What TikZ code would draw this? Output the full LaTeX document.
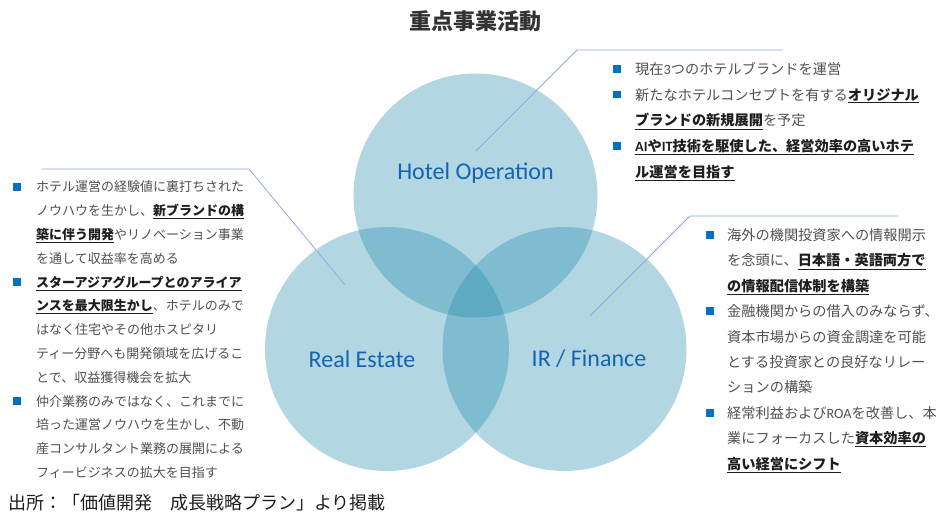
\documentclass[tikz,border=0pt]{standalone}
\usepackage{fontspec}
\setmainfont{Noto Sans CJK JP}
\newfontfamily\carlito{Carlito}
\definecolor{vennblue}{RGB}{35,138,172}
\definecolor{bullblue}{RGB}{0,112,192}
\definecolor{txtgray}{RGB}{80,80,80}
\definecolor{boldtxt}{RGB}{30,30,30}
\definecolor{lblblue}{RGB}{18,100,178}
\definecolor{leadblue}{RGB}{142,168,219}
\definecolor{titlegray}{RGB}{50,50,50}
\newcommand\ulb[1]{{\color{boldtxt}\underline{\textbf{#1}}}}
\newcommand\lat[1]{{\carlito #1}}
\tikzset{
  ltxt/.style={anchor=base west, inner sep=0pt, font=\fontsize{13}{15}\selectfont, text=txtgray},
  rtxt/.style={anchor=base west, inner sep=0pt, font=\fontsize{14.2}{16}\selectfont, text=txtgray},
  sq/.style={rectangle, fill=bullblue, draw=none, minimum size=7.5pt, inner sep=0pt},
  venn/.style={circle, fill=vennblue, fill opacity=0.35, draw=none, minimum size=244pt, inner sep=0pt},
  lbl/.style={font=\fontsize{24}{26}\selectfont\carlito, text=lblblue},
  leader/.style={draw=leadblue, line width=0.75pt},
}
\begin{document}
\begin{tikzpicture}[x=1pt,y=-1pt]
\useasboundingbox (0,0) rectangle (938,513);
% title
\node[font=\fontsize{22}{24}\selectfont\bfseries, text=titlegray] (title) at (475.5,21) {重点事業活動};
% circles
\node[venn] (hotel) at (475.5,195.5) {};
\node[venn] (re) at (387,349) {};
\node[venn] (ir) at (564.5,349) {};
\node[lbl] (hotellbl) at (475.5,173) {Hotel Operation};
\node[lbl] (relbl) at (362,359) {Real Estate};
\node[lbl] (irlbl) at (589,359) {IR / Finance};
% leader lines
\coordinate (hA) at (476,151);
\coordinate (hB) at (577,50);
\coordinate (hC) at (783,50);
\coordinate (rA) at (345,285);
\coordinate (rB) at (249,169);
\coordinate (rC) at (42,169);
\coordinate (iA) at (590,316);
\coordinate (iB) at (690,216);
\coordinate (iC) at (898,216);
\draw[leader] (hA) -- (hB) -- (hC);
\draw[leader] (rA) -- (rB) -- (rC);
\draw[leader] (iA) -- (iB) -- (iC);
% left list
\node[sq] (lb1) at (17,187) {};
\node[sq] (lb2) at (17,282.2) {};
\node[sq] (lb3) at (17,401.2) {};
\node[ltxt] (l1) at (36,192) {ホテル運営の経験値に裏打ちされた};
\node[ltxt] (l2) at (36,215.7) {ノウハウを生かし、\ulb{新ブランドの構}};
\node[ltxt] (l3) at (36,239.5) {\ulb{築に伴う開発}やリノベーション事業};
\node[ltxt] (l4) at (36,263.3) {を通して収益率を高める};
\node[ltxt] (l5) at (36,287.1) {\ulb{スターアジアグループとのアライア}};
\node[ltxt] (l6) at (36,310.9) {\ulb{ンスを最大限生かし}、ホテルのみで};
\node[ltxt] (l7) at (36,334.7) {はなく住宅やその他ホスピタリ};
\node[ltxt] (l8) at (36,358.5) {ティー分野へも開発領域を広げるこ};
\node[ltxt] (l9) at (36,382.3) {とで、収益獲得機会を拡大};
\node[ltxt] (l10) at (36,406.1) {仲介業務のみではなく、これまでに};
\node[ltxt] (l11) at (36,429.9) {培った運営ノウハウを生かし、不動};
\node[ltxt] (l12) at (36,453.7) {産コンサルタント業務の展開による};
\node[ltxt] (l13) at (36,477.5) {フィービジネスの拡大を目指す};
% hotel list
\node[sq] (hb1) at (617,69) {};
\node[sq] (hb2) at (617,94.75) {};
\node[sq] (hb3) at (617,146.25) {};
\node[rtxt] (h1) at (635,74.5) {現在\lat{3}つのホテルブランドを運営};
\node[rtxt] (h2) at (635,100.25) {新たなホテルコンセプトを有する\ulb{オリジナル}};
\node[rtxt] (h3) at (635,126) {\ulb{ブランドの新規展開}を予定};
\node[rtxt] (h4) at (635,151.75) {\ulb{\lat{AI}や\lat{IT}技術を駆使した、経営効率の高いホテ}};
\node[rtxt] (h5) at (635,177.5) {\ulb{ル運営を目指す}};
% IR list
\node[sq] (ib1) at (710,235) {};
\node[sq] (ib2) at (710,311.2) {};
\node[sq] (ib3) at (710,412.8) {};
\node[rtxt] (i1) at (727,240.5) {海外の機関投資家への情報開示};
\node[rtxt] (i2) at (727,265.9) {を念頭に、\ulb{日本語・英語両方で}};
\node[rtxt] (i3) at (727,291.3) {\ulb{の情報配信体制を構築}};
\node[rtxt] (i4) at (727,316.7) {金融機関からの借入のみならず、};
\node[rtxt] (i5) at (727,342.1) {資本市場からの資金調達を可能};
\node[rtxt] (i6) at (727,367.5) {とする投資家との良好なリレー};
\node[rtxt] (i7) at (727,392.9) {ションの構築};
\node[rtxt] (i8) at (727,418.3) {経常利益および\lat{ROA}を改善し、本};
\node[rtxt] (i9) at (727,443.7) {業にフォーカスした\ulb{資本効率の}};
\node[rtxt] (i10) at (727,469.1) {\ulb{高い経営にシフト}};
% footer
\node[anchor=base west, inner sep=0pt, font=\fontsize{18}{20}\selectfont, text=boldtxt] (src) at (8,509) {出所：「価値開発　成長戦略プラン」より掲載};
\end{tikzpicture}
\end{document}
